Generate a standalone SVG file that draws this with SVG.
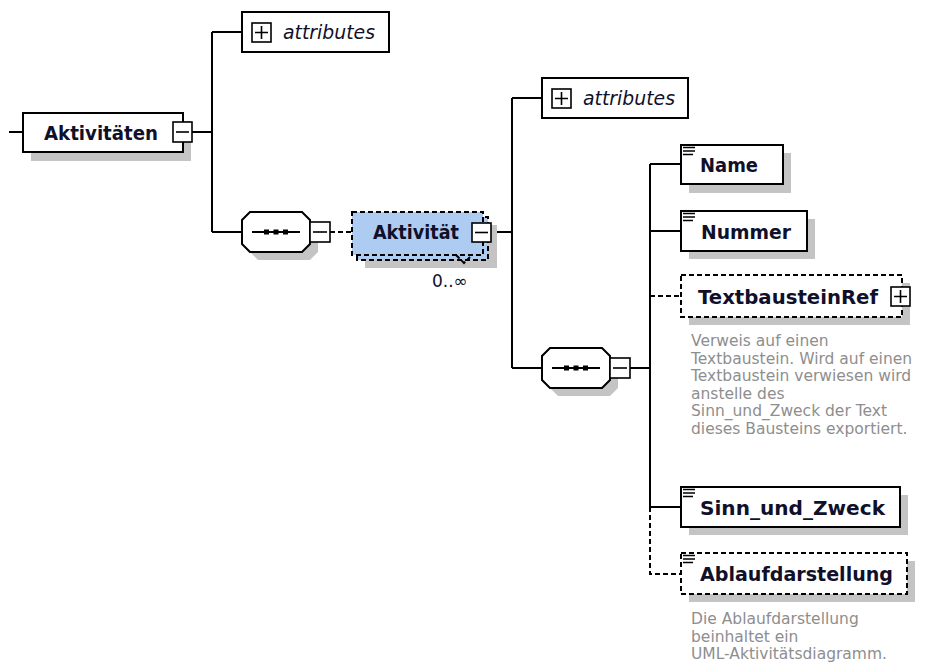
<svg xmlns="http://www.w3.org/2000/svg" width="930" height="671" viewBox="0 0 930 671">
<defs>
<style>
.box{fill:#fff;stroke:#000;stroke-width:2}
.dbox{fill:#fff;stroke:#000;stroke-width:2;stroke-dasharray:5,3}
.blue{fill:#aecbf2;stroke:#000;stroke-width:2;stroke-dasharray:5,3}
.shadow{fill:#c4c4c4;stroke:none}
.btn{fill:#fff;stroke:#000;stroke-width:1.6}
.mark{stroke:#000;stroke-width:1.6;fill:none}
.icon{stroke:#000;stroke-width:1.5}
.line{stroke:#000;stroke-width:2;fill:none}
.dline{stroke:#000;stroke-width:2;fill:none;stroke-dasharray:5,3}
.dot{fill:#000}
.lbl{font-family:"DejaVu Sans",Verdana,sans-serif;font-weight:bold;font-size:20px;fill:#10102a}
.attr{font-family:"DejaVu Sans",Verdana,sans-serif;font-style:italic;font-size:19px;fill:#10102a}
.doc{font-family:"DejaVu Sans",Verdana,sans-serif;font-size:15.5px;fill:#8e8e8e}
.occ{font-family:"DejaVu Sans",Verdana,sans-serif;font-size:17px;fill:#10102a}
</style>
</defs>

<g id="connectors">
<path class="line" d="M9 132 H24"/>
<path class="line" d="M192 132 H212 M212 32 V232 M212 32 H242 M212 232 H242"/>
<path class="dline" d="M330 232 H352"/>
<path class="line" d="M491 232 H512 M512 98 V368 M512 98 H542 M512 368 H542"/>
<path class="line" d="M630 368 H650 M650 164 V507 M650 164 H681 M650 231 H681 M650 507 H681"/>
<path class="dline" d="M650 296 H681"/>
<path class="dline" d="M650 507 V574 H681"/>
</g>

<g id="node-aktivitaeten">
<rect class="shadow" x="31" y="121" width="160" height="40"/>
<rect class="box" x="23" y="113" width="160" height="39"/>
<text class="lbl" x="44" y="139.5" textLength="114" lengthAdjust="spacingAndGlyphs">Aktivitäten</text>
<rect class="btn" x="173" y="122" width="19" height="20"/>
<path class="mark" d="M176 132 H189"/>
</g>

<g id="node-attributes-1">
<rect class="box" x="242" y="12" width="147" height="40"/>
<rect class="btn" x="252" y="23" width="19" height="19"/>
<path class="mark" d="M255 32.5 H268 M261.5 26 V39"/>
<text class="attr" x="283" y="39" textLength="92" lengthAdjust="spacingAndGlyphs">attributes</text>
</g>

<g id="node-sequence-1">
<path class="shadow" d="M258 220 H310 L318 228 V252 L310 260 H258 L250 252 V228 Z"/>
<path class="box" d="M250 212 H302 L310 220 V244 L302 252 H250 L242 244 V220 Z"/>
<path class="line" d="M252 232 H300"/>
<rect class="dot" x="264" y="229.5" width="5" height="5"/>
<rect class="dot" x="273.5" y="229.5" width="5" height="5"/>
<rect class="dot" x="283" y="229.5" width="5" height="5"/>
<rect class="btn" x="310" y="222" width="20" height="20"/>
<path class="mark" d="M313 232 H327"/>
</g>

<g id="node-aktivitaet">
<rect class="shadow" x="365" y="225" width="132" height="43"/>
<rect class="blue" x="357" y="217" width="131" height="43"/>
<rect class="blue" x="352" y="212" width="131" height="43"/>
<text class="lbl" x="373" y="239" textLength="86" lengthAdjust="spacingAndGlyphs">Aktivität</text>
<rect class="btn" x="472" y="223" width="19" height="19"/>
<path class="mark" d="M475 232.5 H488"/>
<path class="dline" d="M456 255 L464 263 L470 257" stroke-width="1.5" stroke-dasharray="3,2"/>
<text class="occ" x="432" y="287">0..∞</text>
</g>

<g id="node-attributes-2">
<rect class="box" x="542" y="78" width="146" height="40"/>
<rect class="btn" x="552" y="89" width="19" height="19"/>
<path class="mark" d="M555 98.5 H568 M561.5 92 V105"/>
<text class="attr" x="583" y="105" textLength="92" lengthAdjust="spacingAndGlyphs">attributes</text>
</g>

<g id="node-sequence-2">
<path class="shadow" d="M558 356 H610 L618 364 V388 L610 396 H558 L550 388 V364 Z"/>
<path class="box" d="M550 348 H602 L610 356 V380 L602 388 H550 L542 380 V356 Z"/>
<path class="line" d="M552 368 H600"/>
<rect class="dot" x="564" y="365.5" width="5" height="5"/>
<rect class="dot" x="573.5" y="365.5" width="5" height="5"/>
<rect class="dot" x="583" y="365.5" width="5" height="5"/>
<rect class="btn" x="610" y="358" width="20" height="20"/>
<path class="mark" d="M613 368 H627"/>
</g>

<g id="node-name">
<rect class="shadow" x="689" y="153" width="102" height="40"/>
<rect class="box" x="681" y="145" width="102" height="39"/>
<path class="icon" d="M683 147.5 H695 M683 151 H695 M683 154.5 H693"/>
<text class="lbl" x="700" y="172" textLength="58" lengthAdjust="spacingAndGlyphs">Name</text>
</g>

<g id="node-nummer">
<rect class="shadow" x="689" y="219" width="126" height="40"/>
<rect class="box" x="681" y="211" width="126" height="40"/>
<path class="icon" d="M683 213.5 H695 M683 217 H695 M683 220.5 H693"/>
<text class="lbl" x="701" y="238.5" textLength="90" lengthAdjust="spacingAndGlyphs">Nummer</text>
</g>

<g id="node-textbausteinref">
<rect class="shadow" x="689" y="283" width="221" height="42"/>
<rect class="dbox" x="681" y="275" width="221" height="42"/>
<text class="lbl" x="698" y="303.5" textLength="180" lengthAdjust="spacingAndGlyphs">TextbausteinRef</text>
<rect class="btn" x="891" y="287" width="19" height="19"/>
<path class="mark" d="M894 296.5 H907 M900.5 290 V303"/>
<text class="doc" x="691" y="346">Verweis auf einen</text>
<text class="doc" x="691" y="363.5">Textbaustein. Wird auf einen</text>
<text class="doc" x="691" y="381">Textbaustein verwiesen wird</text>
<text class="doc" x="691" y="398.5">anstelle des</text>
<text class="doc" x="691" y="416">Sinn_und_Zweck der Text</text>
<text class="doc" x="691" y="433.5">dieses Bausteins exportiert.</text>
</g>

<g id="node-sinn-und-zweck">
<rect class="shadow" x="689" y="495" width="219" height="40"/>
<rect class="box" x="681" y="487" width="219" height="40"/>
<path class="icon" d="M683 489.5 H695 M683 493 H695 M683 496.5 H693"/>
<text class="lbl" x="700" y="514.5" textLength="185" lengthAdjust="spacingAndGlyphs">Sinn_und_Zweck</text>
</g>

<g id="node-ablaufdarstellung">
<rect class="shadow" x="689" y="561" width="226" height="41"/>
<rect class="dbox" x="681" y="553" width="226" height="41"/>
<path class="icon" d="M683 555.5 H695 M683 559 H695 M683 562.5 H693"/>
<text class="lbl" x="700" y="581" textLength="193" lengthAdjust="spacingAndGlyphs">Ablaufdarstellung</text>
<text class="doc" x="691" y="624">Die Ablaufdarstellung</text>
<text class="doc" x="691" y="641.5">beinhaltet ein</text>
<text class="doc" x="691" y="659">UML-Aktivitätsdiagramm.</text>
</g>
</svg>
